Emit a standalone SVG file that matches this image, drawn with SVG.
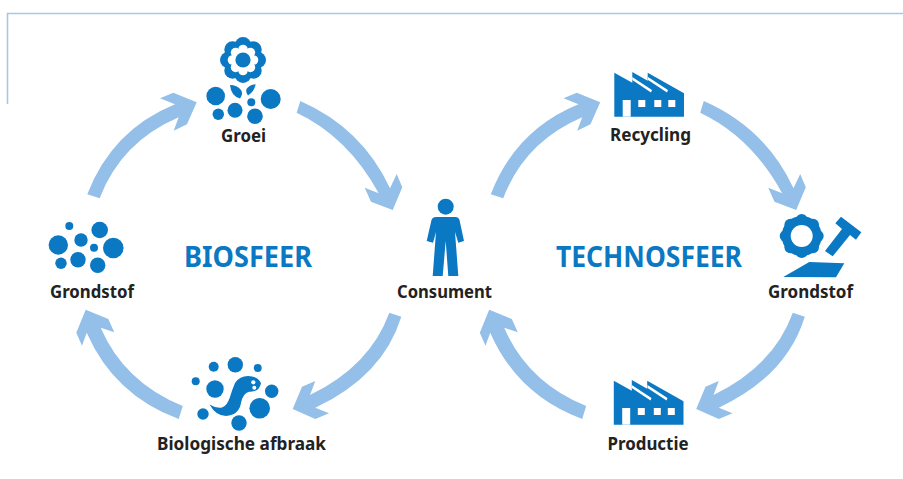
<svg xmlns="http://www.w3.org/2000/svg" width="903" height="479" viewBox="0 0 903 479">
<style>
.ar{fill:#93bfe8}
.ic{fill:#0a78c2}
.w{fill:#fff}
.frame{fill:none;stroke:#a6c8e6;stroke-width:1.6}
.lb{font-family:"Noto Sans","Liberation Sans",sans-serif;font-weight:700;font-size:18px;fill:#222;text-anchor:middle}
.big{font-family:"Noto Sans","Liberation Sans",sans-serif;font-weight:700;font-size:28px;fill:#0a78c2;text-anchor:middle}
</style>
<defs>
<path id="arA" d="M300.3,101Q362,128 390,188.3L396.7,174L402.3,187.3L392.7,210L371,201.7L364.7,187.7L378.7,193.3Q348,137 296.7,112.7Z"/>
<path id="arB" d="M87.3,194.3Q112,130 175,104.3L160,98.3L173.3,92.7L196.7,102.3L187,124.3L173.7,130.7L178.7,117.3Q121,142 99.7,198.3Z"/>
<path id="arC" d="M182.7,406Q124,382 100.7,327.7L114.3,332.3L108.3,319L85.7,309.7L76.3,332.7L82,345.7L86.7,332.7Q114,395 178.7,419Z"/>
<path id="arD" d="M389.3,312.7Q370,366 310,395L315.3,381L302,386.7L292.7,409L315.3,419L329,413.3L315.3,407.7Q383,376 401.3,316.7Z"/>
<g id="factory">
<path class="ic" d="M614.3,72.7L632.3,82.7V72L647.7,80.7V72.7L684,93.3V116.7H614.3Z"/>
<path class="w" d="M632.3,77L652,90L651,92.5L632.3,80ZM648,77L668,90L667,92.5L648,80Z"/>
<rect class="w" x="622.7" y="100" width="8" height="16.7"/>
<rect class="w" x="638.3" y="100" width="7" height="7"/>
<rect class="w" x="654.3" y="100" width="7" height="7"/>
<rect class="w" x="668.3" y="100" width="7" height="7"/>
</g>
</defs>
<path class="frame" d="M7.5,104V13.5H903"/>
<g id="connectors" class="ar">
<use href="#arA"/><use href="#arB"/><use href="#arC"/><use href="#arD"/>
<use href="#arA" x="403.5"/><use href="#arB" x="403.5"/><use href="#arC" x="403.5"/><use href="#arD" x="403.5"/>
</g>
<g id="groei">
<g class="ic">
<circle cx="243" cy="45.3" r="8.3"/><circle cx="253.4" cy="49.6" r="8.3"/><circle cx="257.7" cy="60" r="8.3"/><circle cx="253.4" cy="70.4" r="8.3"/><circle cx="243" cy="74.7" r="8.3"/><circle cx="232.6" cy="70.4" r="8.3"/><circle cx="228.3" cy="60" r="8.3"/><circle cx="232.6" cy="49.6" r="8.3"/><circle cx="243" cy="60" r="14"/>
</g>
<g class="w">
<circle cx="243" cy="49.5" r="4.8"/><circle cx="250.4" cy="52.6" r="4.8"/><circle cx="253.5" cy="60" r="4.8"/><circle cx="250.4" cy="67.4" r="4.8"/><circle cx="243" cy="70.5" r="4.8"/><circle cx="235.6" cy="67.4" r="4.8"/><circle cx="232.5" cy="60" r="4.8"/><circle cx="235.6" cy="52.6" r="4.8"/><circle cx="243" cy="60" r="10"/>
</g>
<circle class="ic" cx="243" cy="60" r="7.6"/>
<g class="ic">
<path d="M230,85Q237,85 241,90Q243.5,94 240,98.5Q231,96 230,85Z"/>
<path d="M255.7,84.3Q249,85 246.5,89Q245.5,92 248,95.5Q254,92 255.7,84.3Z"/>
<circle cx="215.7" cy="96" r="9.3"/><circle cx="270.7" cy="99" r="10"/><circle cx="235" cy="110.3" r="7.5"/><circle cx="255" cy="116.3" r="7.8"/><circle cx="218.3" cy="114.3" r="5.7"/><circle cx="251.3" cy="102.3" r="4"/>
</g>
<text class="lb" x="243.5" y="142" textLength="45" lengthAdjust="spacingAndGlyphs">Groei</text>
</g>
<g id="grondstof-bio">
<g class="ic">
<circle cx="69.3" cy="226" r="4"/><circle cx="99.7" cy="230" r="8.3"/><circle cx="58.3" cy="245" r="9.7"/><circle cx="81" cy="240" r="6.7"/><circle cx="94" cy="247.7" r="4"/><circle cx="113.3" cy="248" r="10.3"/><circle cx="61" cy="263.3" r="5.7"/><circle cx="78" cy="259.7" r="7.7"/><circle cx="97.7" cy="265.3" r="7.7"/>
</g>
<text class="lb" x="92" y="298" textLength="84" lengthAdjust="spacingAndGlyphs">Grondstof</text>
</g>
<g id="afbraak">
<g class="ic">
<circle cx="213.7" cy="366.7" r="5"/><circle cx="235.3" cy="364.7" r="7.7"/><circle cx="257.7" cy="368" r="4"/><circle cx="195.7" cy="381.3" r="4"/><circle cx="215" cy="389" r="8.7"/><circle cx="271.7" cy="391.3" r="6.7"/><circle cx="259.7" cy="408.3" r="10.3"/><circle cx="203" cy="414" r="5.7"/><circle cx="239" cy="423" r="7.7"/>
<path d="M209.5,404.5Q216,416 226,416Q239,415 241,403Q243,393 249,391.7Q259,392.5 261,383.3Q259,378 252,376.5Q241,374.5 235,383Q232,390 230,397Q227,406 222,407.5Q216,408.5 209.5,404.5Z"/>
</g>
<circle class="w" cx="253.3" cy="382.3" r="2.1"/><circle class="w" cx="254.3" cy="387.7" r="2"/>
<text class="lb" x="241.5" y="450" textLength="169" lengthAdjust="spacingAndGlyphs">Biologische afbraak</text>
</g>
<g id="consument">
<circle class="ic" cx="445.7" cy="206.7" r="8"/>
<path class="ic" d="M436,217H455.5Q458.5,217 459.5,220L464,241L458.3,242.7L455,232L458.3,276H448.3L445.7,241L442.7,276H432.7L436,232L433,242.7L426.7,241L431.5,220Q432.5,217 436,217Z"/>
<text class="lb" x="444.5" y="298" textLength="95" lengthAdjust="spacingAndGlyphs">Consument</text>
</g>
<g id="recycling">
<use href="#factory"/>
<text class="lb" x="650.5" y="141" textLength="81" lengthAdjust="spacingAndGlyphs">Recycling</text>
</g>
<g id="grondstof-tech">
<g class="ic">
<circle cx="801.7" cy="236" r="20"/>
<circle cx="801.7" cy="220" r="6"/><circle cx="813" cy="224.7" r="6"/><circle cx="817.7" cy="236" r="6"/><circle cx="813" cy="247.3" r="6"/><circle cx="801.7" cy="252" r="6"/><circle cx="790.4" cy="247.3" r="6"/><circle cx="785.7" cy="236" r="6"/><circle cx="790.4" cy="224.7" r="6"/>
</g>
<circle class="w" cx="801.7" cy="236" r="11"/>
<path class="ic" d="M841,216.7L861.3,232.3L856,239.7L850,235L832.7,256.3L825,251L842,229L835.3,223.3Z"/>
<path class="ic" d="M809.3,262L844.3,263.3L836,277.3L783.3,277Z"/>
<text class="lb" x="810.5" y="298" textLength="85" lengthAdjust="spacingAndGlyphs">Grondstof</text>
</g>
<g id="productie">
<use href="#factory" x="-0.5" y="308"/>
<text class="lb" x="648" y="450" textLength="81" lengthAdjust="spacingAndGlyphs">Productie</text>
</g>
<text class="big" x="248" y="267" textLength="128" lengthAdjust="spacingAndGlyphs">BIOSFEER</text>
<text class="big" x="649" y="267" textLength="186" lengthAdjust="spacingAndGlyphs">TECHNOSFEER</text>
</svg>
